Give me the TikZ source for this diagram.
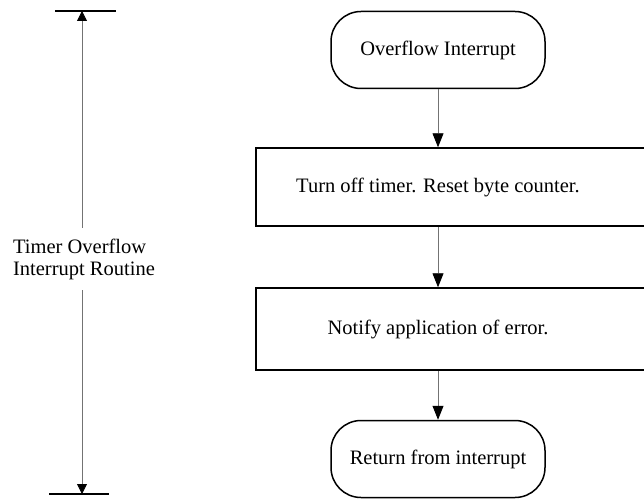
\documentclass[tikz,border=0pt]{standalone}
\usepackage{fontspec}
\setmainfont{Liberation Serif}
\usetikzlibrary{arrows.meta}
\begin{document}
\begin{tikzpicture}[x=1pt,y=-1pt,
  txt/.style={font=\fontsize{20.5}{22}\selectfont, inner sep=0pt},
  terminal/.style={txt, draw, line width=1.5pt, rectangle, rounded corners=30pt,
    minimum width=214pt, minimum height=77pt},
  stepbox/.style={draw, line width=1.5pt, rectangle, anchor=west,
    minimum width=440pt, inner sep=0pt},
  flow/.style={draw=black!55, line width=0.8pt,
    -{Triangle[length=14pt,width=11pt,color=black]}},
  dim/.style={draw=black!55, line width=0.8pt,
    -{Triangle[length=10pt,width=10pt,color=black]}},
  bar/.style={draw, line width=1.6pt}
]
\useasboundingbox (0,0) rectangle (644,500);

% time span of the routine, drawn as a dimension line on the left
\coordinate (dimtop) at (82,11);
\coordinate (dimbot) at (82,494);
\draw[bar] ([xshift=-27pt]dimtop) -- ([xshift=34pt]dimtop);
\draw[bar] ([xshift=-33pt]dimbot) -- ([xshift=27pt]dimbot);
\node[txt, align=left, minimum height=62pt] (span) at (84,259)
  {Timer Overflow\\Interrupt Routine};
\draw[dim] (span.north -| dimtop) -- (dimtop);
\draw[dim] (span.south -| dimtop) -- (dimbot);

% flow chart of the routine
\node[terminal] (start) at (438,50) {Overflow Interrupt};
\node[stepbox, minimum height=78pt] (clear) at (255,187) {};
\node[txt] (cleartext) at (clear.center -| start) {Turn off timer. Reset byte counter.};
\node[stepbox, minimum height=82pt] (notify) at (255,329) {};
\node[txt] (notifytext) at (notify.center -| start) {Notify application of error.};
\node[terminal] (finish) at (438,459) {Return from interrupt};

\draw[flow] (start) -- (start |- clear.north);
\draw[flow] (clear.south -| start) -- (start |- notify.north);
\draw[flow] (notify.south -| start) -- (finish);
\end{tikzpicture}
\end{document}
